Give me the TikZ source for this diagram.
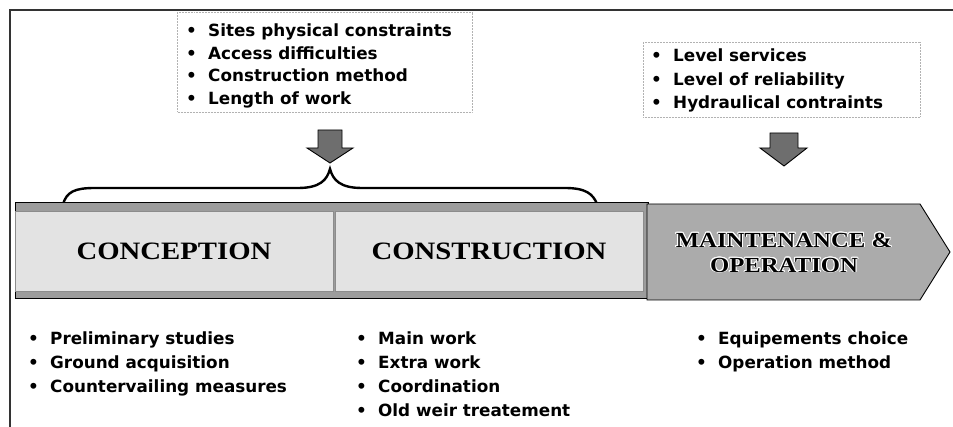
\documentclass[tikz,border=0pt]{standalone}
\usepackage{fontspec}
\usepackage{contour}
\newfontfamily\listfont{DejaVu Sans}
\newfontfamily\phasefont{Liberation Serif}[FakeStretch=1.15]
\contourlength{0.9pt}
\definecolor{bandgray}{HTML}{9C9C9C}
\definecolor{boxlight}{HTML}{E3E3E3}
\definecolor{maintgray}{HTML}{ABABAB}
\definecolor{arrowgray}{HTML}{6E6E6E}
\newcommand\itemline[1]{\makebox[22pt][l]{•}#1}
\newcommand\listbody[1]{\begin{tabular}[t]{@{}l@{}}#1\end{tabular}}

\begin{document}
\begin{tikzpicture}[x=1pt, y=-1pt,
  frameline/.style={draw=black!80, line width=1.2pt},
  listframe/.style={draw=black!30, densely dotted, line width=0.5pt},
  listtext/.style={anchor=base west, inner sep=0pt, text=black},
  blockarrow/.style={fill=arrowgray, draw=black, line width=0.9pt, line join=miter},
  brace/.style={draw=black, line width=2.4pt, line cap=round},
  phasebox/.style={fill=boxlight, draw=black!45, line width=0.5pt, inner sep=0pt,
    font=\phasefont\bfseries\fontsize{25}{28}\selectfont},
  phasetext/.style={inner sep=0pt, align=center,
    font=\phasefont\bfseries\fontsize{21.5}{25}\selectfont}
]
\useasboundingbox (0,0) rectangle (953,427);

% outer frame: top and left edges only
\draw[frameline] (10,427) -- (10,10) -- (953,10);

% framed factor lists above the band
\draw[listframe] (177,12) rectangle (472,112);
\draw[listframe] (643,42) rectangle (920,117);

\node[listtext, font=\listfont\bfseries\fontsize{16.8}{22.4}\selectfont] (designfactors) at (186,37)
  {\listbody{\itemline{Sites physical constraints}\\
             \itemline{Access difficulties}\\
             \itemline{Construction method}\\
             \itemline{Length of work}}};

\node[listtext, font=\listfont\bfseries\fontsize{16.8}{23.5}\selectfont] (servicefactors) at (651,62)
  {\listbody{\itemline{Level services}\\
             \itemline{Level of reliability}\\
             \itemline{Hydraulical contraints}}};

% down arrows
\draw[blockarrow] (318,130) -- (342,130) -- (342,148) -- (353,148) -- (330,163)
  -- (307,148) -- (318,148) -- cycle;
\draw[blockarrow] (770,133) -- (798,133) -- (798,148) -- (807,148) -- (784,166)
  -- (760,148) -- (770,148) -- cycle;

% brace over the first two phases
\draw[brace] (63,204) .. controls (67,192) and (74,188) .. (95,188) -- (298,188)
  .. controls (320,188) and (327,180) .. (330,169)
  .. controls (333,180) and (340,188) .. (362,188) -- (565,188)
  .. controls (586,188) and (593,194) .. (597,204);

% phase band
\draw[fill=bandgray, draw=black, line width=0.8pt] (15,202) rectangle (648,298);
\node[phasebox, minimum width=318pt, minimum height=80pt] (conception) at (174,251) {CONCEPTION};
\node[phasebox, minimum width=308pt, minimum height=80pt] (construction) at (489,251) {CONSTRUCTION};
\draw[fill=maintgray, draw=black, line width=0.9pt, line join=miter]
  (647,204) -- (920,204) -- (950,252) -- (920,300) -- (647,300) -- cycle;
\node[phasetext] (maintenance) at (784,253)
  {\contour{white}{MAINTENANCE \&}\\\contour{white}{OPERATION}};

% task lists below the band
\node[listtext, font=\listfont\bfseries\fontsize{16.8}{23.7}\selectfont] (designtasks) at (28,345)
  {\listbody{\itemline{Preliminary studies}\\
             \itemline{Ground acquisition}\\
             \itemline{Countervailing measures}}};
\node[listtext, font=\listfont\bfseries\fontsize{16.8}{23.7}\selectfont] (worktasks) at (356,345)
  {\listbody{\itemline{Main work}\\
             \itemline{Extra work}\\
             \itemline{Coordination}\\
             \itemline{Old weir treatement}}};
\node[listtext, font=\listfont\bfseries\fontsize{16.8}{23.7}\selectfont] (operationtasks) at (696,345)
  {\listbody{\itemline{Equipements choice}\\
             \itemline{Operation method}}};
\end{tikzpicture}
\end{document}
